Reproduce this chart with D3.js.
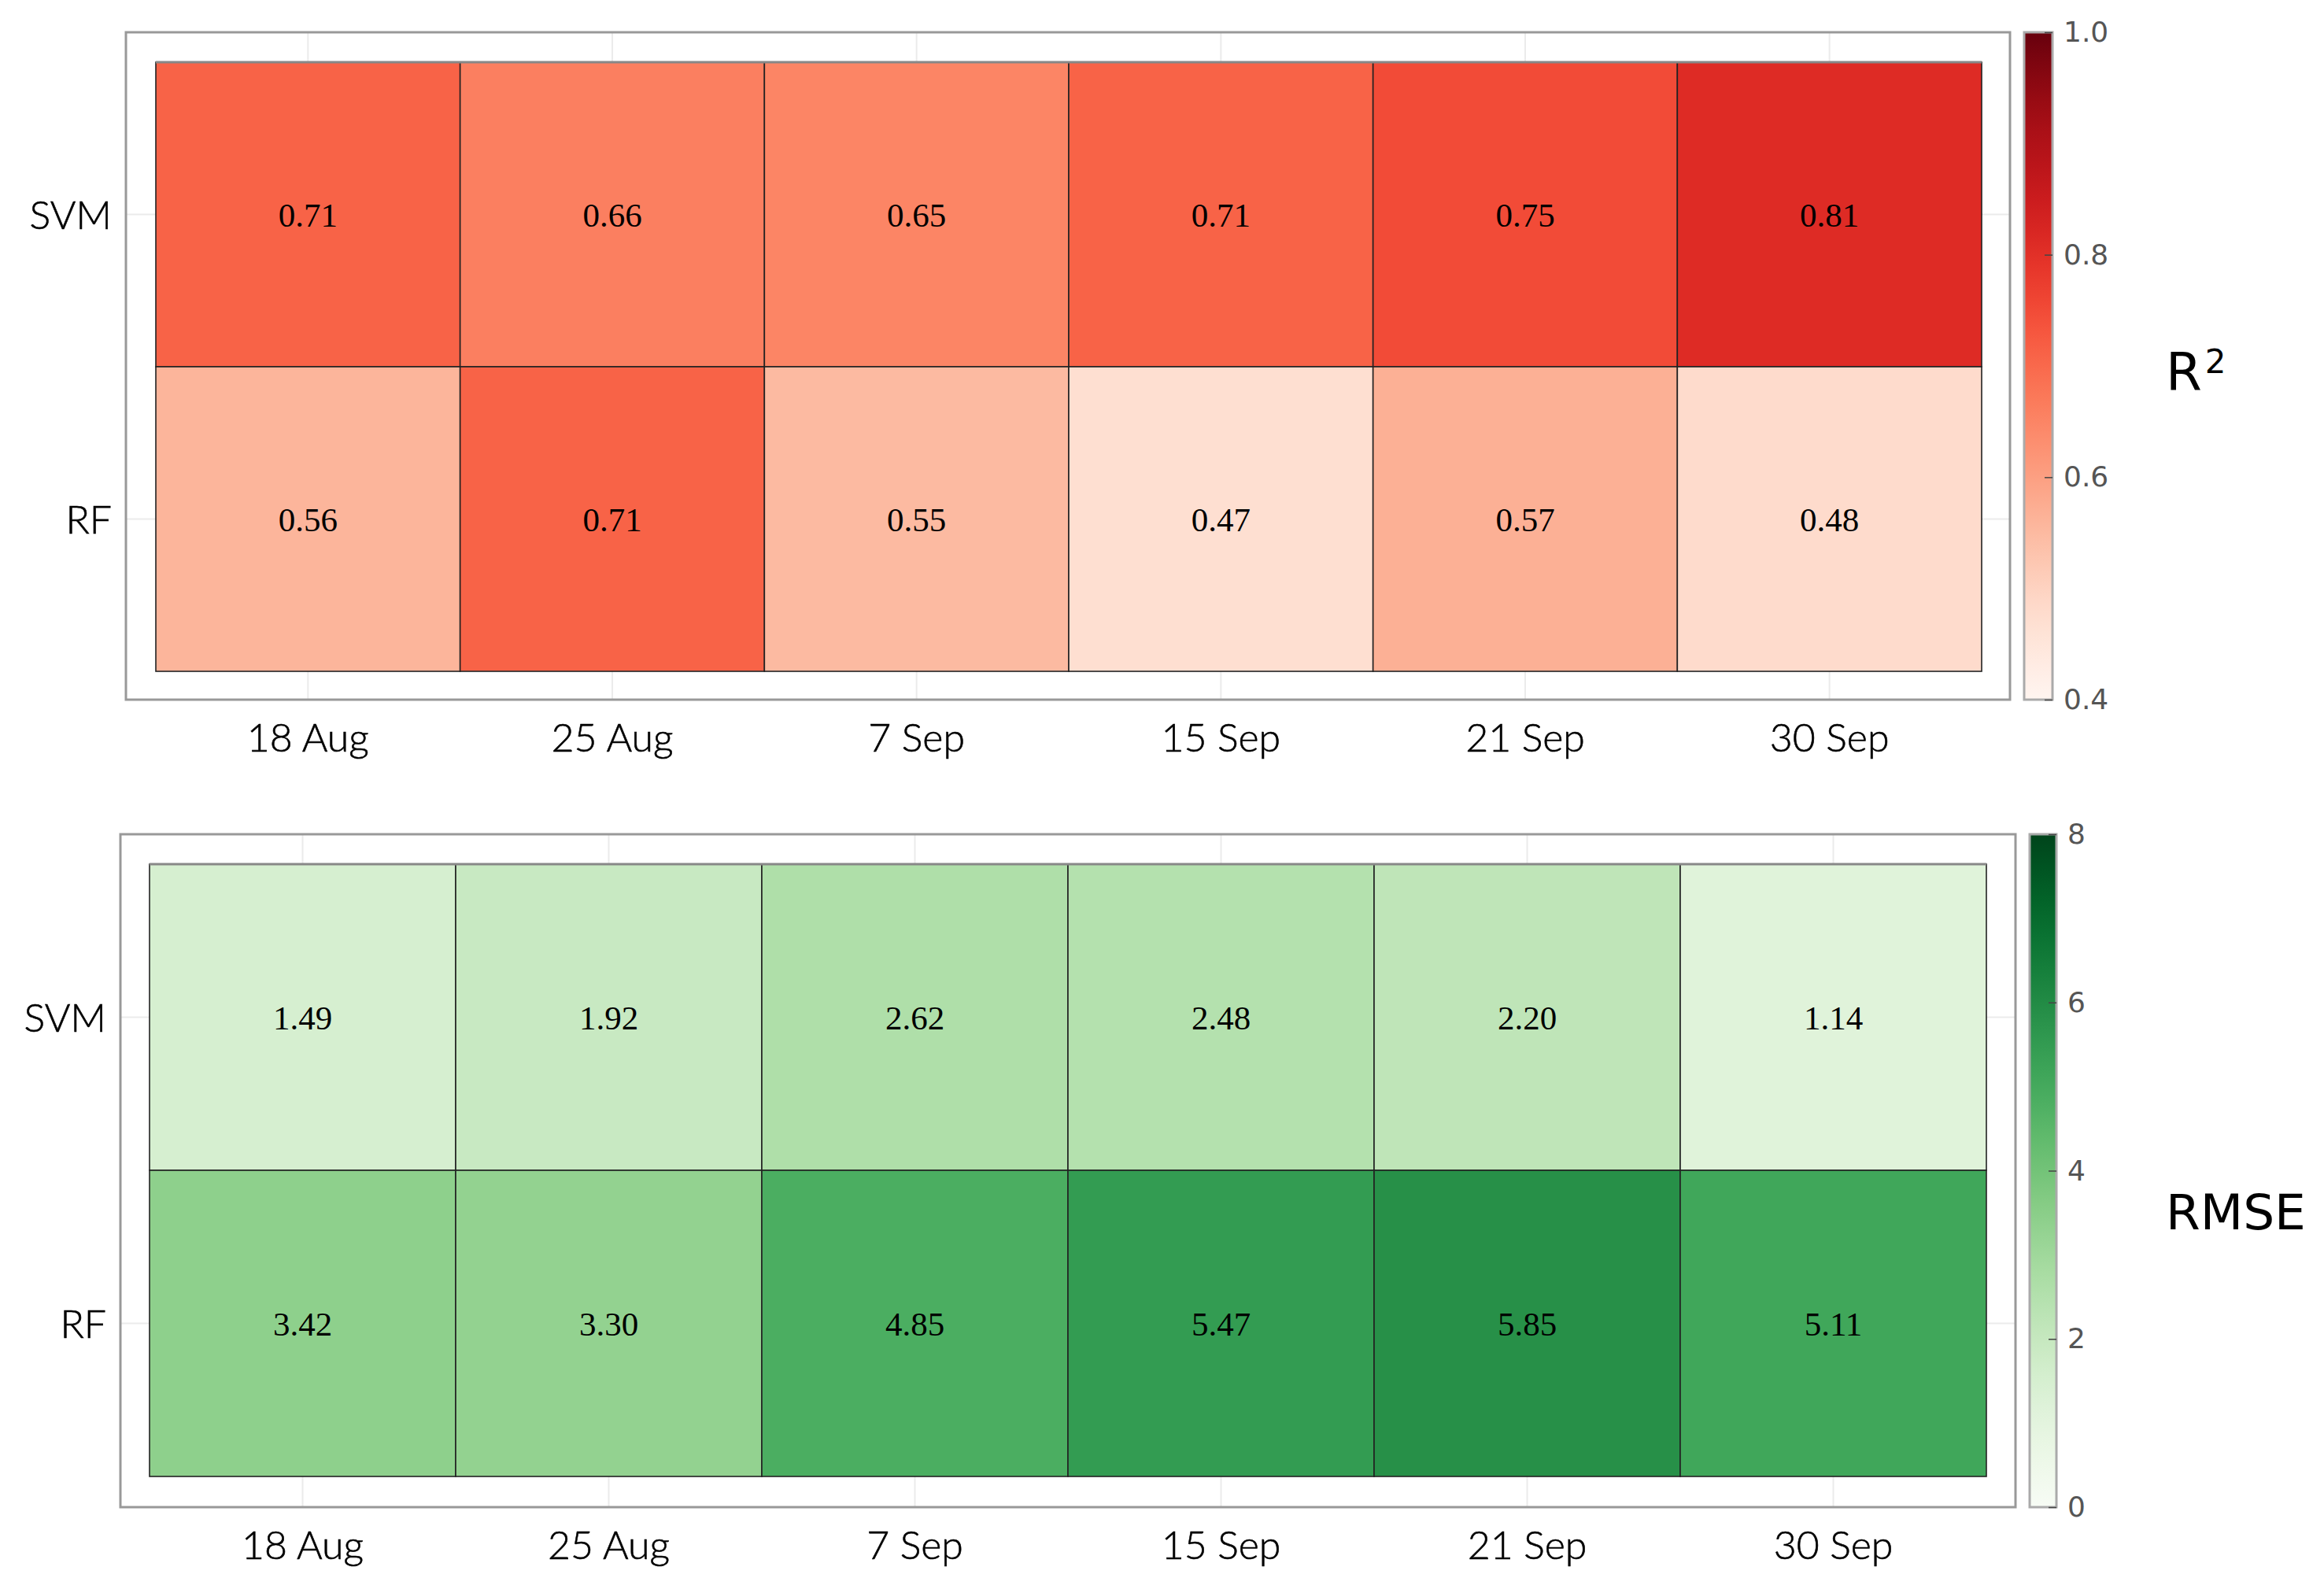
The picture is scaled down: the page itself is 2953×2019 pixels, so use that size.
<!doctype html>
<html>
<head>
<meta charset="utf-8">
<title>SVM / RF heatmaps</title>
<script src="https://d3js.org/d3.v7.min.js"></script>
<style>
  body { margin: 0; background: #fff; }
  svg { display: block; }
</style>
</head>
<body>
<div id="chart"></div>
<script>
// Data
const dates = ["18 Aug", "25 Aug", "7 Sep", "15 Sep", "21 Sep", "30 Sep"];
const models = ["SVM", "RF"];
const r2SVM = [0.71, 0.66, 0.65, 0.71, 0.75, 0.81];
const r2RF = [0.56, 0.71, 0.55, 0.47, 0.57, 0.48];
const rmseSVM = [1.49, 1.92, 2.62, 2.48, 2.20, 1.14];
const rmseRF = [3.42, 3.30, 4.85, 5.47, 5.85, 5.11];
const r2Ticks = [0.4, 0.6, 0.8, 1.0];
const rmseTicks = [0, 2, 4, 6, 8];

var W = 2953, H = 2019;

var svg = d3.select("#chart").append("svg")
  .attr("width", W)
  .attr("height", H);

var defs = svg.append("defs");

function drawPanel(p) {
  var g = svg.append("g");

  var x = d3.scaleBand().domain(dates).range([p.cx0, p.cx1]);
  var y = d3.scaleBand().domain(models).range([p.cy0, p.cy1]);
  var color = d3.scaleSequential(p.interp).domain(p.domain);

  var cells = [];
  models.forEach(function(m, i) {
    p.values[i].forEach(function(v, j) {
      cells.push({ model: m, date: dates[j], value: v });
    });
  });

  // frame background
  g.append("rect")
    .attr("x", p.fx0).attr("y", p.fy0)
    .attr("width", p.fx1 - p.fx0).attr("height", p.fy1 - p.fy0)
    .attr("fill", "#fff");

  // grid lines at category centres
  g.selectAll(".vgrid")
    .data(dates)
    .enter().append("line")
    .attr("x1", function(d) { return x(d) + x.bandwidth() / 2; })
    .attr("x2", function(d) { return x(d) + x.bandwidth() / 2; })
    .attr("y1", p.fy0).attr("y2", p.fy1)
    .attr("stroke", "#ebebeb").attr("stroke-width", 2);

  g.selectAll(".hgrid")
    .data(models)
    .enter().append("line")
    .attr("y1", function(d) { return y(d) + y.bandwidth() / 2; })
    .attr("y2", function(d) { return y(d) + y.bandwidth() / 2; })
    .attr("x1", p.fx0).attr("x2", p.fx1)
    .attr("stroke", "#ebebeb").attr("stroke-width", 2);

  // heatmap cells
  g.selectAll(".cell")
    .data(cells)
    .enter().append("rect")
    .attr("x", function(d) { return x(d.date); })
    .attr("y", function(d) { return y(d.model); })
    .attr("width", x.bandwidth())
    .attr("height", y.bandwidth())
    .attr("fill", function(d) { return color(d.value); })
    .attr("stroke", "#222")
    .attr("stroke-width", 1.6);

  g.append("line")
    .attr("x1", p.cx0).attr("x2", p.cx1)
    .attr("y1", p.cy0).attr("y2", p.cy0)
    .attr("stroke", "#888").attr("stroke-width", 3);

  g.selectAll(".val")
    .data(cells)
    .enter().append("text")
    .attr("x", function(d) { return x(d.date) + x.bandwidth() / 2; })
    .attr("y", function(d) { return y(d.model) + y.bandwidth() / 2; })
    .attr("dy", "0.35em")
    .attr("text-anchor", "middle")
    .style("font-family", "'Liberation Serif', 'Times New Roman', serif")
    .style("font-size", "43px")
    .attr("fill", "#000")
    .text(function(d) { return d.value.toFixed(2); });

  // frame
  g.append("rect")
    .attr("x", p.fx0).attr("y", p.fy0)
    .attr("width", p.fx1 - p.fx0).attr("height", p.fy1 - p.fy0)
    .attr("fill", "none")
    .attr("stroke", "#999").attr("stroke-width", 3);

  // axis labels
  g.selectAll(".ylab")
    .data(models)
    .enter().append("text")
    .attr("x", p.fx0 - 18)
    .attr("y", function(d) { return y(d) + y.bandwidth() / 2; })
    .attr("dy", "0.36em")
    .attr("text-anchor", "end")
    .style("font-family", "Lato, 'Open Sans', sans-serif")
    .style("font-weight", "300")
    .style("font-size", "50px")
    .attr("fill", "#000")
    .attr("stroke", "#000").attr("stroke-width", 0.6)
    .text(function(d) { return d; });

  g.selectAll(".xlab")
    .data(dates)
    .enter().append("text")
    .attr("x", function(d) { return x(d) + x.bandwidth() / 2; })
    .attr("y", p.fy1 + 66)
    .attr("text-anchor", "middle")
    .style("font-family", "Lato, 'Open Sans', sans-serif")
    .style("font-weight", "300")
    .style("font-size", "50px")
    .attr("fill", "#000")
    .attr("stroke", "#000").attr("stroke-width", 0.6)
    .text(function(d) { return d; });

  // colour bar
  var gradId = "grad-" + p.id;
  var grad = defs.append("linearGradient")
    .attr("id", gradId)
    .attr("x1", "0").attr("y1", "1").attr("x2", "0").attr("y2", "0");
  d3.range(0, 1.0001, 0.05).forEach(function(t) {
    grad.append("stop")
      .attr("offset", t)
      .attr("stop-color", p.interp(t));
  });

  g.append("rect")
    .attr("x", p.bx0).attr("y", p.fy0)
    .attr("width", p.bx1 - p.bx0).attr("height", p.fy1 - p.fy0)
    .attr("fill", "url(#" + gradId + ")")
    .attr("stroke", "#aaa").attr("stroke-width", 3);

  var cb = d3.scaleLinear().domain(p.domain).range([p.fy1, p.fy0]);
  var cbAxis = g.append("g")
    .attr("transform", "translate(" + p.bx1 + ",0)")
    .call(d3.axisRight(cb).tickValues(p.ticks).tickSize(-10).tickPadding(14)
      .tickFormat(p.fmt));
  cbAxis.select(".domain").remove();
  cbAxis.selectAll(".tick line").attr("stroke", "#444").attr("stroke-width", 1.5);
  cbAxis.selectAll(".tick text")
    .style("font-family", "'DejaVu Sans', Verdana, sans-serif")
    .style("font-size", "36px")
    .attr("fill", "#555");

  // colour bar title
  var title = g.append("text")
    .attr("x", p.tx)
    .attr("y", p.ty)
    .attr("dy", "0.36em")
    .style("font-family", "'DejaVu Sans', Verdana, sans-serif")
    .style("font-size", p.tsize + "px")
    .attr("fill", "#000");
  title.append("tspan").text(p.title);
  if (p.sup) {
    title.append("tspan")
      .attr("dy", "-0.5em")
      .attr("dx", "4")
      .style("font-size", "42px")
      .text(p.sup);
  }
}

drawPanel({
  id: "r2",
  values: [r2SVM, r2RF],
  interp: d3.interpolateReds,
  domain: [0.4, 1.0],
  ticks: r2Ticks,
  fmt: d3.format(".1f"),
  fx0: 160, fx1: 2554, fy0: 41, fy1: 889,
  cx0: 198, cx1: 2518, cy0: 79, cy1: 853,
  bx0: 2572, bx1: 2608,
  title: "R", sup: "2", tx: 2752, ty: 471, tsize: 66
});

drawPanel({
  id: "rmse",
  values: [rmseSVM, rmseRF],
  interp: d3.interpolateGreens,
  domain: [0, 8],
  ticks: rmseTicks,
  fmt: d3.format("d"),
  fx0: 153, fx1: 2561, fy0: 1060, fy1: 1915,
  cx0: 190, cx1: 2524, cy0: 1098, cy1: 1876,
  bx0: 2579, bx1: 2613,
  title: "RMSE", sup: null, tx: 2752, ty: 1539, tsize: 63
});
</script>
</body>
</html>
